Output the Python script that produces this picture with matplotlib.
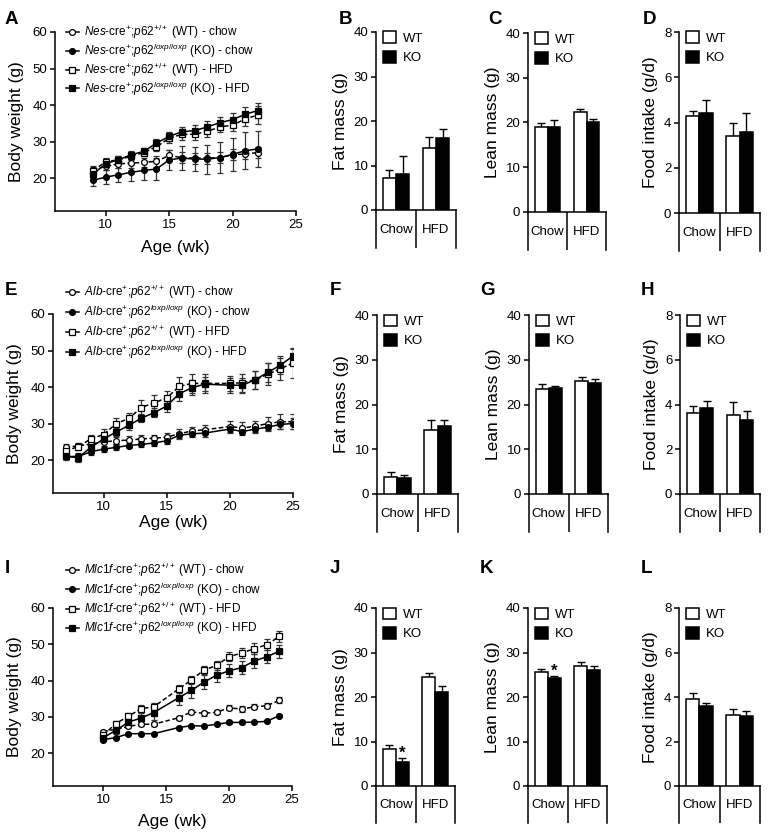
import matplotlib
matplotlib.use("Agg")
import matplotlib.pyplot as plt
from matplotlib.lines import Line2D
from matplotlib.patches import Patch
import numpy as np

plt.rcParams['font.family'] = ['Liberation Sans', 'DejaVu Sans']
plt.rcParams['mathtext.fontset'] = 'custom'
plt.rcParams['mathtext.rm'] = 'Liberation Sans'
plt.rcParams['mathtext.it'] = 'Liberation Sans:italic'
plt.rcParams['mathtext.bf'] = 'Liberation Sans:bold'

# ---------------- Data ----------------
# Panel A (Nes-cre)
weeks_A = [9, 10, 11, 12, 13, 14, 15, 16, 17, 18, 19, 20, 21, 22]
A_wt_chow = [22.3, 23.2, 23.9, 24.1, 24.3, 24.6, 26.2, 25.6, 25.5, 25.5, 25.6, 26.4, 26.6, 27.0]
A_wt_chow_err = [1.0, 1.0, 1.2, 1.2, 1.3, 1.5, 1.5, 1.5, 1.5, 1.5, 1.5, 1.5, 1.5, 1.5]
A_ko_chow = [19.4, 20.3, 20.9, 21.6, 22.1, 22.5, 25.0, 25.5, 25.2, 25.2, 25.6, 26.5, 27.5, 28.0]
A_ko_chow_err = [1.5, 1.8, 2.0, 2.5, 2.5, 3.0, 2.8, 3.2, 3.2, 4.0, 4.2, 4.5, 5.0, 5.0]
A_wt_hfd = [22.0, 24.5, 25.0, 26.0, 27.0, 28.6, 30.9, 32.0, 32.0, 32.8, 34.0, 34.5, 36.2, 37.3]
A_wt_hfd_err = [1.0, 1.0, 1.0, 1.0, 1.0, 1.2, 1.2, 1.5, 1.5, 1.5, 1.5, 1.5, 2.0, 2.5]
A_ko_hfd = [21.0, 24.0, 25.0, 26.4, 27.3, 29.6, 31.4, 32.7, 33.0, 34.0, 35.2, 36.0, 37.5, 38.5]
A_ko_hfd_err = [1.0, 1.0, 1.0, 1.0, 1.0, 1.0, 1.2, 1.2, 1.5, 1.5, 1.5, 1.8, 2.0, 2.0]

# Panel E (Alb-cre)
weeks_E = [7, 8, 9, 10, 11, 12, 13, 14, 15, 16, 17, 18, 20, 21, 22, 23, 24, 25]
E_wt_chow = [23.5, 23.9, 24.4, 25.0, 25.3, 25.5, 25.8, 26.0, 26.3, 27.2, 28.0, 28.3, 29.2, 28.8, 29.3, 30.0, 30.5, 30.5]
E_wt_chow_err = [0.8, 0.8, 1.0, 1.0, 1.0, 1.0, 1.0, 1.0, 1.0, 1.2, 1.2, 1.2, 1.5, 1.5, 1.5, 1.8, 2.0, 2.0]
E_ko_chow = [21.0, 21.0, 22.3, 23.0, 23.5, 24.0, 24.3, 24.7, 25.3, 26.8, 27.2, 27.4, 28.5, 27.8, 28.5, 29.0, 29.8, 30.0]
E_ko_chow_err = [0.8, 0.8, 0.8, 0.8, 0.8, 0.8, 0.8, 0.8, 0.8, 1.0, 1.0, 1.0, 1.0, 1.0, 1.0, 1.0, 1.2, 1.5]
E_wt_hfd = [22.5, 23.7, 25.8, 27.0, 30.0, 31.4, 34.4, 35.7, 37.0, 40.2, 41.0, 41.0, 41.0, 41.2, 42.0, 43.5, 45.0, 46.6]
E_wt_hfd_err = [1.0, 1.0, 1.0, 1.5, 1.5, 1.5, 2.0, 2.0, 2.0, 2.5, 2.5, 2.5, 2.0, 2.5, 2.5, 3.0, 3.0, 4.0]
E_ko_hfd = [21.0, 20.7, 23.5, 25.8, 27.7, 29.5, 31.5, 33.0, 34.8, 38.2, 39.8, 40.8, 40.5, 40.5, 42.0, 44.0, 46.0, 48.5]
E_ko_hfd_err = [1.0, 1.3, 1.2, 1.2, 1.2, 1.2, 1.2, 1.2, 1.5, 2.0, 2.0, 2.0, 2.0, 2.0, 2.5, 2.5, 2.5, 2.0]

# Panel I (Mlc1f-cre)
weeks_I = [10, 11, 12, 13, 14, 16, 17, 18, 19, 20, 21, 22, 23, 24]
I_wt_chow = [26.0, 26.6, 27.4, 28.0, 28.0, 29.8, 31.4, 31.0, 31.3, 32.5, 32.2, 32.8, 33.1, 34.6]
I_wt_chow_err = [0.4, 0.5, 0.5, 0.5, 0.5, 0.5, 0.6, 0.6, 0.6, 0.7, 0.7, 0.7, 0.7, 0.8]
I_ko_chow = [23.8, 24.3, 25.4, 25.4, 25.4, 27.1, 27.6, 27.5, 28.0, 28.5, 28.5, 28.6, 28.8, 30.4]
I_ko_chow_err = [0.3, 0.3, 0.3, 0.3, 0.3, 0.3, 0.3, 0.3, 0.3, 0.3, 0.3, 0.3, 0.3, 0.3]
I_wt_hfd = [25.0, 28.2, 30.2, 32.3, 32.8, 37.7, 40.2, 42.9, 44.2, 46.6, 47.6, 48.8, 49.9, 52.2]
I_wt_hfd_err = [0.8, 0.8, 0.9, 1.0, 1.0, 1.0, 1.2, 1.2, 1.3, 1.3, 1.4, 1.5, 1.5, 1.5]
I_ko_hfd = [24.3, 26.3, 28.6, 29.7, 31.2, 35.3, 37.3, 39.6, 41.5, 42.7, 43.6, 45.4, 46.6, 48.1]
I_ko_hfd_err = [0.8, 1.0, 1.2, 1.5, 2.0, 2.0, 2.0, 2.0, 2.0, 1.8, 1.8, 1.8, 1.8, 1.8]

diet_groups = ["Chow", "HFD"]

# Bar panels: [WT chow, WT HFD], [KO chow, KO HFD]
B_wt = [7.2, 14.0];  B_wt_err = [1.9, 2.4];  B_ko = [8.1, 16.1];  B_ko_err = [4.0, 2.1]
C_wt = [19.0, 22.4]; C_wt_err = [0.8, 0.7];  C_ko = [19.0, 20.1]; C_ko_err = [1.5, 0.6]
D_wt = [4.30, 3.40]; D_wt_err = [0.20, 0.58]; D_ko = [4.43, 3.60]; D_ko_err = [0.58, 0.80]
F_wt = [3.9, 14.3];  F_wt_err = [1.0, 2.2];  F_ko = [3.6, 15.1];  F_ko_err = [0.6, 1.5]
G_wt = [23.4, 25.3]; G_wt_err = [1.2, 0.9];  G_ko = [23.6, 24.8]; G_ko_err = [0.6, 0.8]
H_wt = [3.61, 3.51]; H_wt_err = [0.33, 0.61]; H_ko = [3.84, 3.32]; H_ko_err = [0.32, 0.37]
J_wt = [8.3, 24.4];  J_wt_err = [0.9, 0.9];  J_ko = [5.5, 21.2];  J_ko_err = [0.7, 1.2]
K_wt = [25.7, 27.0]; K_wt_err = [0.5, 0.8];  K_ko = [24.2, 26.1]; K_ko_err = [0.5, 0.9]
L_wt = [3.93, 3.21]; L_wt_err = [0.23, 0.27]; L_ko = [3.58, 3.13]; L_ko_err = [0.17, 0.22]

# ---------------- Figure ----------------
W, H = 768, 835
fig = plt.figure(figsize=(W / 100, H / 100), dpi=100)


def px_axes(l, t, r, b):
    return fig.add_axes([l / W, 1 - b / H, (r - l) / W, (b - t) / H])


def style_axes(ax):
    for s in ['top', 'right']:
        ax.spines[s].set_visible(False)
    for s in ['left', 'bottom']:
        ax.spines[s].set_linewidth(1.1)
    ax.tick_params(direction='out', length=3.5, width=1.1, labelsize=9.5, pad=2)


def label(letter, x, y):
    fig.text(x / W, 1 - y / H, letter, fontsize=13.5, fontweight='bold', va='baseline', ha='left')


def line_panel(ax, weeks, series, gene, xlabelpad, leg_xy, leg_spacing):
    styles = [
        dict(marker='o', mfc='white', ls=(0, (3, 1.6)), ms=4.2),
        dict(marker='o', mfc='black', ls='-', ms=4.2),
        dict(marker='s', mfc='white', ls=(0, (3, 1.6)), ms=4.6),
        dict(marker='s', mfc='black', ls='-', ms=4.6),
    ]
    ko = r'$\mathit{p62}^{\mathit{loxp}/\mathit{loxp}}$'
    wt = r'$\mathit{p62}^{+/+}$'
    cre = r'$\mathit{%s}$-cre$^{+}$;' % gene
    labels = [
        cre + wt + ' (WT) - chow',
        cre + ko + ' (KO) - chow',
        cre + wt + ' (WT) - HFD',
        cre + ko + ' (KO) - HFD',
    ]
    handles = []
    for (vals, errs), st, lab in zip(series, styles, labels):
        ax.errorbar(weeks, vals, yerr=errs, fmt='none', ecolor='#333333', elinewidth=0.9,
                    capsize=2.2, capthick=0.9, zorder=2)
        ax.plot(weeks, vals, color='black', lw=1.1, ls=st['ls'], marker=st['marker'],
                mfc=st['mfc'], mec='black', mew=0.9, ms=st['ms'], zorder=3, label=lab)
        handles.append(Line2D([0], [0], color='black', lw=1.1, ls='-', marker=st['marker'],
                              mfc=st['mfc'], mec='black', mew=0.9, ms=st['ms']))
    ax.set_xlim(6, 25)
    ax.set_ylim(11, 60)
    ax.set_xticks([10, 15, 20, 25])
    ax.set_yticks([20, 30, 40, 50, 60])
    style_axes(ax)
    ax.set_xlabel('Age (wk)', fontsize=12.5, labelpad=xlabelpad)
    ax.set_ylabel('Body weight (g)', fontsize=12.5, labelpad=6)
    fig.legend(handles, labels, loc='upper left',
               bbox_to_anchor=(leg_xy[0] / W, 1 - leg_xy[1] / H),
               frameon=False, fontsize=8.5, handlelength=1.1, handletextpad=0.4,
               borderpad=0, borderaxespad=0, labelspacing=leg_spacing)


def bar_panel(l, t, zero, bot, r, wt, wt_err, ko, ko_err, ylabel, ymax, yticks, stars=None):
    ax = px_axes(l, t, r, zero)
    box = px_axes(l, zero, r, bot)
    centers = np.arange(len(diet_groups)) + 0.5
    bw = 0.33
    ax.bar(centers - bw / 2, wt, width=bw, color='white', edgecolor='black', linewidth=1.1, zorder=3)
    ax.bar(centers + bw / 2, ko, width=bw, color='black', edgecolor='black', linewidth=1.1, zorder=3)
    ax.errorbar(centers - bw / 2, wt, yerr=[np.zeros(len(wt)), wt_err], fmt='none', ecolor='black',
                elinewidth=1.0, capsize=2.8, capthick=1.0, zorder=2)
    ax.errorbar(centers + bw / 2, ko, yerr=[np.zeros(len(ko)), ko_err], fmt='none', ecolor='black',
                elinewidth=1.0, capsize=2.8, capthick=1.0, zorder=2)
    if stars:
        for i in stars:
            ax.annotate('*', (centers[i] + bw / 2, ko[i] + ko_err[i]), xytext=(0, -2),
                        textcoords='offset points', ha='center', va='bottom', fontsize=12,
                        fontweight='bold')
    ax.set_xlim(0, len(diet_groups))
    ax.set_ylim(0, ymax)
    ax.set_yticks(yticks)
    ax.set_xticks([])
    style_axes(ax)
    ax.set_ylabel(ylabel, fontsize=12.5, labelpad=4)
    ax.legend([Patch(facecolor='white', edgecolor='black', linewidth=1.1),
               Patch(facecolor='black', edgecolor='black', linewidth=1.1)], ['WT', 'KO'],
              loc='upper left', bbox_to_anchor=((l + 6.5) / W, 1 - (t - 0.5) / H),
              bbox_transform=fig.transFigure, frameon=False, fontsize=9.5,
              handlelength=1.0, handleheight=1.0, handletextpad=0.55,
              borderpad=0, borderaxespad=0, labelspacing=0.45)
    # category box below the axis
    box.set_xlim(0, len(diet_groups))
    box.set_ylim(0, 1)
    for s in ['top', 'bottom']:
        box.spines[s].set_visible(False)
    for s in ['left', 'right']:
        box.spines[s].set_linewidth(1.1)
    box.set_xticks([])
    box.set_yticks([])
    box.axvline(1, color='black', lw=1.1)
    box.patch.set_alpha(0)
    for c, name in zip(centers, diet_groups):
        box.text(c, 0.48, name, ha='center', va='center', fontsize=9.5)
    return ax


# Row 1
axA = px_axes(55, 32, 296, 211)
line_panel(axA, weeks_A,
           [(A_wt_chow, A_wt_chow_err), (A_ko_chow, A_ko_chow_err),
            (A_wt_hfd, A_wt_hfd_err), (A_ko_hfd, A_ko_hfd_err)],
           'Nes', 7, (66, 23), 0.05)
bar_panel(376, 32, 210, 248, 456, B_wt, B_wt_err, B_ko, B_ko_err, 'Fat mass (g)', 40, [0, 10, 20, 30, 40])
bar_panel(528, 33, 212, 250, 606, C_wt, C_wt_err, C_ko, C_ko_err, 'Lean mass (g)', 40, [0, 10, 20, 30, 40])
bar_panel(679, 32, 213, 251, 760, D_wt, D_wt_err, D_ko, D_ko_err, 'Food intake (g/d)', 8, [0, 2, 4, 6, 8])

# Row 2
axE = px_axes(53, 314, 293, 493)
line_panel(axE, weeks_E,
           [(E_wt_chow, E_wt_chow_err), (E_ko_chow, E_ko_chow_err),
            (E_wt_hfd, E_wt_hfd_err), (E_ko_hfd, E_ko_hfd_err)],
           'Alb', 2, (66, 283), 0.16)
bar_panel(377, 315, 494, 532, 458, F_wt, F_wt_err, F_ko, F_ko_err, 'Fat mass (g)', 40, [0, 10, 20, 30, 40])
bar_panel(529, 315, 494, 532, 608, G_wt, G_wt_err, G_ko, G_ko_err, 'Lean mass (g)', 40, [0, 10, 20, 30, 40])
bar_panel(680, 315, 494, 532, 760, H_wt, H_wt_err, H_ko, H_ko_err, 'Food intake (g/d)', 8, [0, 2, 4, 6, 8])

# Row 3
axI = px_axes(53, 608, 292, 786)
line_panel(axI, weeks_I,
           [(I_wt_chow, I_wt_chow_err), (I_ko_chow, I_ko_chow_err),
            (I_wt_hfd, I_wt_hfd_err), (I_ko_hfd, I_ko_hfd_err)],
           'Mlc1f', 6, (66, 561), 0.10)
bar_panel(376, 608, 786, 823, 455, J_wt, J_wt_err, J_ko, J_ko_err, 'Fat mass (g)', 40, [0, 10, 20, 30, 40], stars=[0])
bar_panel(528, 608, 786, 823, 607, K_wt, K_wt_err, K_ko, K_ko_err, 'Lean mass (g)', 40, [0, 10, 20, 30, 40], stars=[0])
bar_panel(679, 608, 786, 823, 760, L_wt, L_wt_err, L_ko, L_ko_err, 'Food intake (g/d)', 8, [0, 2, 4, 6, 8])

# Panel letters
for letter, x, y in [('A', 5, 24), ('B', 339, 24), ('C', 488, 24), ('D', 643, 24),
                     ('E', 5, 295), ('F', 330, 295), ('G', 480, 295), ('H', 641, 295),
                     ('I', 5, 573), ('J', 330, 573), ('K', 480, 573), ('L', 641, 573)]:
    label(letter, x, y)

fig.savefig('out.png', dpi=100)
